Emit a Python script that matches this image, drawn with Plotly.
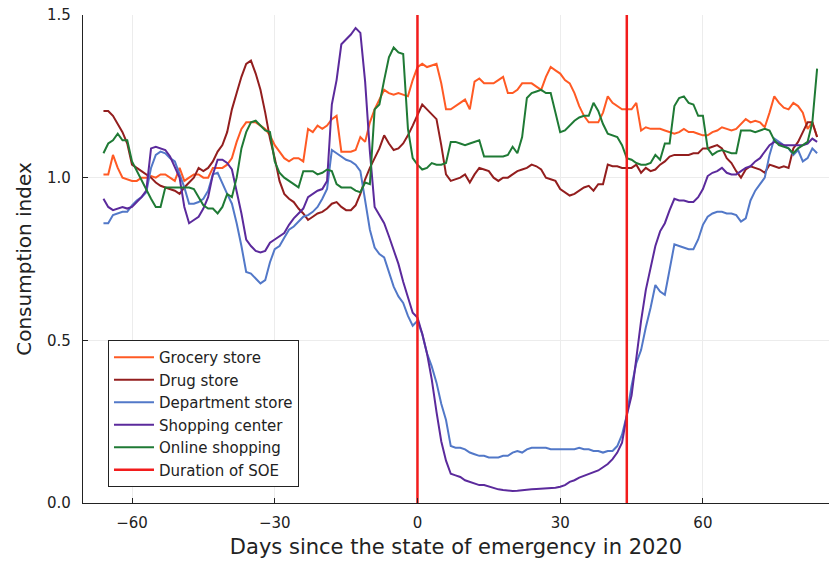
import plotly.graph_objects as go

days = list(range(-66, 85))

grocery = [1.01, 1.01, 1.07, 1.03, 1.00, 0.995, 0.99, 0.99, 1.00, 1.00,
           1.005, 1.0, 1.01, 1.01, 1.0, 0.99, 1.03, 0.99, 1.0, 1.01,
           1.01, 1.0, 1.0, 1.03, 1.03, 1.03, 1.04, 1.06, 1.11, 1.15,
           1.17, 1.17, 1.17, 1.16, 1.15, 1.13, 1.10, 1.08, 1.06, 1.05,
           1.06, 1.06, 1.05, 1.15, 1.14, 1.16, 1.15, 1.16, 1.18, 1.19,
           1.08, 1.08, 1.08, 1.085, 1.125, 1.11, 1.17, 1.21, 1.24, 1.27,
           1.26, 1.255, 1.26, 1.255, 1.25, 1.30, 1.34, 1.35, 1.34, 1.345,
           1.35, 1.29, 1.21, 1.21, 1.22, 1.23, 1.24, 1.21, 1.295, 1.305,
           1.29, 1.29, 1.29, 1.30, 1.31, 1.26, 1.26, 1.27, 1.29, 1.29,
           1.29, 1.28, 1.27, 1.31, 1.34, 1.33, 1.32, 1.30, 1.29, 1.26,
           1.22, 1.19, 1.17, 1.17, 1.17, 1.20, 1.25, 1.23, 1.22, 1.21,
           1.21, 1.21, 1.23, 1.145, 1.155, 1.15, 1.15, 1.15, 1.145, 1.14,
           1.135, 1.14, 1.15, 1.14, 1.14, 1.135, 1.13, 1.13, 1.14, 1.145,
           1.155, 1.15, 1.145, 1.15, 1.165, 1.18, 1.17, 1.175, 1.17, 1.155,
           1.20, 1.25, 1.23, 1.215, 1.21, 1.23, 1.22, 1.20, 1.15, 1.17,
           1.125]

drug = [1.205, 1.205, 1.19, 1.165, 1.14, 1.105, 1.04, 1.03, 1.02, 1.01,
        1.0, 0.985, 0.975, 0.97, 0.965, 0.96, 0.95, 0.97, 0.985, 1.0,
        1.03, 1.02, 1.03, 1.05, 1.08, 1.10, 1.14, 1.21, 1.26, 1.31,
        1.35, 1.36, 1.32, 1.27, 1.20, 1.12, 1.06, 0.99, 0.95, 0.935,
        0.925, 0.905, 0.89, 0.87, 0.88, 0.89, 0.895, 0.905, 0.92, 0.925,
        0.91, 0.90, 0.90, 0.915, 0.95, 0.995, 1.03, 1.06, 1.09, 1.13,
        1.105, 1.085, 1.09, 1.105, 1.13, 1.16, 1.195, 1.225, 1.21, 1.195,
        1.18, 1.10, 1.01, 0.99, 0.995, 1.0, 1.01, 0.985, 1.01, 1.03,
        1.025, 1.02, 1.0, 0.99, 1.0, 1.0, 1.01, 1.02, 1.025, 1.03,
        1.04, 1.035, 1.025, 1.0, 0.995, 0.99, 0.965, 0.955, 0.945, 0.95,
        0.96, 0.97, 0.975, 0.96, 0.98, 0.98, 1.04, 1.035, 1.035, 1.03,
        1.03, 1.03, 1.04, 1.015, 1.03, 1.02, 1.025, 1.04, 1.05, 1.065,
        1.07, 1.07, 1.07, 1.07, 1.075, 1.075, 1.09, 1.09, 1.095, 1.10,
        1.09, 1.06, 1.045, 1.02, 1.0, 1.025, 1.035, 1.03, 1.025, 1.015,
        1.04, 1.035, 1.03, 1.035, 1.03, 1.09, 1.11, 1.14, 1.17, 1.17,
        1.125]

department = [0.86, 0.86, 0.885, 0.89, 0.895, 0.895, 0.915, 0.93, 0.94, 0.955,
              1.03, 1.07, 1.08, 1.075, 1.06, 1.05, 1.01, 0.97, 0.92, 0.92,
              0.925, 0.935, 0.96, 1.01, 1.015, 0.98, 0.95, 0.92, 0.86, 0.79,
              0.71, 0.705, 0.69, 0.675, 0.685, 0.74, 0.78, 0.79, 0.815, 0.84,
              0.85, 0.865, 0.88, 0.885, 0.895, 0.91, 0.935, 0.965, 1.085, 1.075,
              1.065, 1.055, 1.05, 1.04, 1.02, 0.93, 0.84, 0.785, 0.765, 0.755,
              0.71, 0.665, 0.635, 0.615, 0.575, 0.545, 0.56, 0.52, 0.46, 0.42,
              0.37, 0.305, 0.255, 0.175, 0.17, 0.17, 0.165, 0.155, 0.15, 0.145,
              0.145, 0.14, 0.14, 0.14, 0.145, 0.145, 0.155, 0.16, 0.155, 0.165,
              0.17, 0.17, 0.17, 0.17, 0.165, 0.165, 0.165, 0.165, 0.165, 0.165,
              0.17, 0.165, 0.165, 0.16, 0.16, 0.155, 0.16, 0.16, 0.175, 0.21,
              0.27, 0.36, 0.43, 0.47, 0.54, 0.60, 0.67, 0.65, 0.64, 0.72,
              0.795, 0.79, 0.785, 0.78, 0.78, 0.81, 0.855, 0.88, 0.89, 0.895,
              0.895, 0.89, 0.89, 0.885, 0.865, 0.875, 0.93, 0.96, 0.98, 1.0,
              1.07, 1.12, 1.11, 1.10, 1.09, 1.07, 1.085, 1.05, 1.06, 1.09,
              1.075]

shopping = [0.935, 0.91, 0.90, 0.905, 0.91, 0.905, 0.91, 0.925, 0.94, 0.96,
            1.09, 1.095, 1.09, 1.085, 1.065, 1.035, 1.0, 0.91, 0.86, 0.87,
            0.88, 0.905, 0.94, 1.01, 1.055, 1.055, 1.045, 1.025, 0.96, 0.89,
            0.81, 0.79, 0.775, 0.77, 0.775, 0.80, 0.81, 0.82, 0.83, 0.855,
            0.875, 0.89, 0.905, 0.94, 0.95, 0.96, 0.965, 0.99, 1.225, 1.30,
            1.41, 1.425, 1.44, 1.46, 1.445, 1.295, 1.08, 0.91, 0.885, 0.86,
            0.82, 0.78, 0.735, 0.68, 0.63, 0.585, 0.57, 0.52, 0.46, 0.38,
            0.28, 0.19, 0.13, 0.09, 0.085, 0.08, 0.07, 0.065, 0.06, 0.055,
            0.055, 0.05, 0.045, 0.042, 0.04, 0.038, 0.037, 0.038, 0.04, 0.04,
            0.042, 0.043, 0.044, 0.045, 0.045, 0.047, 0.05, 0.055, 0.065, 0.07,
            0.078, 0.083, 0.09, 0.095, 0.10, 0.11, 0.12, 0.135, 0.155, 0.185,
            0.27, 0.33, 0.45, 0.56, 0.655, 0.72, 0.79, 0.835, 0.86, 0.90,
            0.935, 0.93, 0.93, 0.925, 0.925, 0.94, 0.965, 1.005, 1.015, 1.02,
            1.03, 1.015, 1.01, 1.01, 1.02, 1.03, 1.035, 1.05, 1.06, 1.08,
            1.10, 1.11, 1.105, 1.10, 1.10, 1.10, 1.10, 1.10, 1.105, 1.12,
            1.11]

online = [1.075, 1.105, 1.115, 1.135, 1.115, 1.115, 1.05, 1.02, 0.995, 0.965,
          0.935, 0.91, 0.91, 0.97, 0.97, 0.97, 0.97, 0.97, 0.97, 0.965,
          0.94, 0.915, 0.905, 0.905, 0.89, 0.91, 0.95, 0.94, 1.0, 1.09,
          1.14, 1.17, 1.175, 1.16, 1.145, 1.14, 1.05, 1.015, 1.0, 0.99,
          0.98, 0.97, 1.02, 1.02, 1.02, 1.01, 1.015, 1.025, 1.02, 0.98,
          0.97, 0.97, 0.97, 0.96, 0.955, 0.985, 0.98, 1.21, 1.225, 1.30,
          1.37, 1.40, 1.385, 1.38, 1.15, 1.06, 1.04, 1.025, 1.03, 1.045,
          1.04, 1.04, 1.045, 1.11, 1.11, 1.105, 1.10, 1.105, 1.11, 1.115,
          1.065, 1.065, 1.065, 1.065, 1.065, 1.07, 1.095, 1.075, 1.125, 1.245,
          1.26, 1.265, 1.27, 1.26, 1.26, 1.20, 1.14, 1.145, 1.16, 1.175,
          1.185, 1.19, 1.19, 1.23, 1.205, 1.165, 1.135, 1.13, 1.125, 1.10,
          1.06, 1.055, 1.045, 1.04, 1.04, 1.045, 1.07, 1.055, 1.105, 1.105,
          1.22, 1.245, 1.25, 1.23, 1.225, 1.19, 1.19, 1.09, 1.07, 1.08,
          1.085, 1.08, 1.075, 1.075, 1.145, 1.145, 1.145, 1.14, 1.145, 1.15,
          1.145, 1.115, 1.10, 1.095, 1.09, 1.075, 1.09, 1.10, 1.11, 1.17,
          1.335]

soe_days = [0, 44]
y_limits = [0.0, 1.5]

series = [
    ("Grocery store", grocery, "#ff5a24"),
    ("Drug store", drug, "#931e1e"),
    ("Department store", department, "#5278c8"),
    ("Shopping center", shopping, "#5b2a9c"),
    ("Online shopping", online, "#1f7a35"),
]

fig = go.Figure()
for name, vals, col in series:
    fig.add_trace(go.Scatter(x=days, y=vals, mode="lines", name=name,
                             line=dict(color=col, width=2)))

soe_x, soe_y = [], []
for d in soe_days:
    soe_x += [d, d, None]
    soe_y += [y_limits[0], y_limits[1], None]
fig.add_trace(go.Scatter(x=soe_x, y=soe_y, mode="lines", name="Duration of SOE",
                         line=dict(color="#f21c1c", width=2.5)))

font_family = "DejaVu Sans"
fig.update_layout(
    width=829, height=565,
    margin=dict(l=83, r=0, t=15, b=62),
    paper_bgcolor="white", plot_bgcolor="white",
    font=dict(family=font_family, color="#222222"),
    showlegend=True,
    legend=dict(x=0.0335, y=0.033, xanchor="left", yanchor="bottom",
                bgcolor="white", bordercolor="#222222", borderwidth=1,
                font=dict(size=15, family=font_family, color="#222222"),
                tracegroupgap=0, itemwidth=40),
    xaxis=dict(range=[-70.3, 86.5], tickvals=[-60, -30, 0, 30, 60],
               ticktext=["\u221260", "\u221230", "0", "30", "60"],
               ticks="inside", ticklen=5, tickcolor="#222222",
               showline=True, linecolor="#222222", linewidth=1.2,
               showgrid=True, gridcolor="#ececec", gridwidth=1,
               zeroline=False, tickfont=dict(size=15), automargin=False,
               ticklabelstandoff=6, ticklabeloverflow="allow",
               title=dict(text="Days since the state of emergency in 2020",
                          font=dict(size=21), standoff=8)),
    yaxis=dict(range=y_limits, tickvals=[0, 0.5, 1.0, 1.5],
               ticktext=["0.0", "0.5", "1.0", "1.5"],
               ticks="inside", ticklen=5, tickcolor="#222222",
               showline=True, linecolor="#222222", linewidth=1.2,
               showgrid=True, gridcolor="#ececec", gridwidth=1,
               zeroline=False, tickfont=dict(size=15), automargin=False,
               ticklabelstandoff=8, ticklabeloverflow="allow",
               title=dict(text="Consumption index", font=dict(size=20), standoff=10)),
)

# remove the browser's default 8px page margin so the figure fills the window
fig.write_html("out.html",
               config={"displayModeBar": False},
               post_script="document.body.style.margin='0';")
